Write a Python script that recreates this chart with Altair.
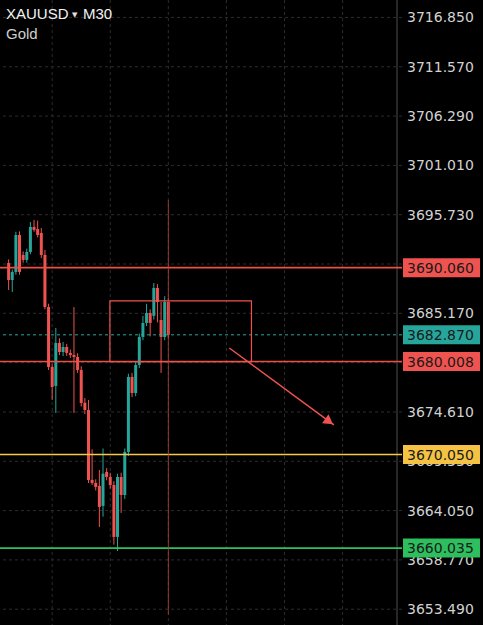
import altair as alt
import pandas as pd

# ---------------- data ----------------
bar_index = list(range(1, 46))
opens = [3690.56, 3688.74, 3689.60, 3693.56, 3691.42, 3690.89, 3691.74, 3694.42, 3694.20, 3693.78,
         3691.42, 3685.85, 3679.43, 3677.40, 3682.00, 3681.03, 3681.57, 3680.93, 3680.71, 3680.50,
         3679.11, 3675.60, 3674.82, 3667.33, 3667.01, 3666.69, 3664.55, 3668.19, 3667.65, 3666.79,
         3661.23, 3667.65, 3665.72, 3670.33, 3678.36, 3676.64, 3679.64, 3682.64, 3684.14, 3685.21,
         3684.90, 3687.89, 3684.46, 3682.64, 3686.39]
highs = [3690.95, 3689.85, 3693.90, 3693.95, 3691.80, 3692.10, 3694.95, 3695.17, 3695.10, 3694.31,
         3691.96, 3686.20, 3679.80, 3683.60, 3682.50, 3682.10, 3681.90, 3681.30, 3685.85, 3680.90,
         3679.50, 3676.10, 3675.90, 3670.60, 3667.40, 3668.40, 3670.70, 3668.60, 3668.10, 3667.20,
         3668.00, 3668.10, 3670.70, 3678.70, 3678.80, 3680.00, 3683.00, 3684.90, 3686.20, 3685.60,
         3688.42, 3688.30, 3686.39, 3687.00, 3686.80]
lows = [3687.67, 3687.46, 3689.30, 3689.30, 3690.60, 3690.60, 3691.50, 3693.90, 3693.30, 3691.10,
        3685.60, 3679.10, 3675.90, 3674.50, 3680.70, 3680.60, 3680.60, 3680.40, 3674.50, 3678.80,
        3675.20, 3674.40, 3667.00, 3666.80, 3666.20, 3662.30, 3663.40, 3667.30, 3666.40, 3660.40,
        3659.73, 3663.80, 3665.30, 3669.90, 3676.20, 3676.30, 3679.30, 3682.30, 3683.80, 3682.70,
        3684.50, 3684.20, 3678.79, 3682.30, 3682.50]
closes = [3688.74, 3689.60, 3693.56, 3689.60, 3690.89, 3691.74, 3694.42, 3694.10, 3693.56, 3691.42,
          3685.85, 3679.43, 3677.29, 3682.00, 3681.03, 3681.57, 3680.93, 3680.71, 3680.50, 3679.11,
          3675.57, 3674.82, 3667.33, 3667.01, 3666.58, 3664.44, 3668.00, 3667.65, 3666.79, 3661.23,
          3667.65, 3665.72, 3670.33, 3678.36, 3676.64, 3679.64, 3682.64, 3684.14, 3685.21, 3684.14,
          3687.89, 3686.39, 3682.64, 3686.39, 3682.87]

axis_ticks = [3716.850, 3711.570, 3706.290, 3701.010, 3695.730, 3690.450, 3685.170,
              3679.890, 3674.610, 3669.330, 3664.050, 3658.770, 3653.490]
grid_bars = [13, 29, 45, 61, 77, 93]

level_prices = [3690.060, 3682.870, 3680.008, 3670.050, 3660.035]
level_labels = ["3690.060", "3682.870", "3680.008", "3670.050", "3660.035"]
level_line_colors = ["#EA5048", "#2AA79B", "#EA5048", "#F4C84A", "#2FC060"]
level_box_colors = ["#EF5350", "#26A69A", "#EF5350", "#F5C344", "#2DBE5E"]
level_dashed = [False, True, False, False, False]

zone_bars = [28.9, 67.9]
zone_prices = [3686.50, 3680.008]
arrow_bars = [61.8, 90.6]
arrow_prices = [3681.46, 3673.22]
arrow_head = [89.3, 3673.59]
cross_bar = 45
cross_prices = [3697.30, 3652.90]

# ---------------- tables ----------------
candles = pd.DataFrame({"i": bar_index, "open": opens, "high": highs, "low": lows, "close": closes})
candles["dir"] = ["up" if c >= o else "down" for o, c in zip(opens, closes)]
levels = pd.DataFrame({"price": level_prices, "label": level_labels, "lc": level_line_colors,
                       "bc": level_box_colors, "dashed": level_dashed})
ticks_df = pd.DataFrame({"price": axis_ticks, "label": [f"{v:.3f}" for v in axis_ticks]})
grid_df = pd.DataFrame({"i": grid_bars})

X_DOMAIN = [0, 108]
Y_DOMAIN = [3651.80, 3718.72]
xs = alt.Scale(domain=X_DOMAIN, nice=False, zero=False)
ys = alt.Scale(domain=Y_DOMAIN, nice=False, zero=False)
FONT = "DejaVu Sans"
RED = "#EF5350"
GRID = "#2C2C2C"

X = lambda f: alt.X(f, scale=xs, axis=None)
Y = lambda f: alt.Y(f, scale=ys, axis=None)

hgrid = alt.Chart(ticks_df).mark_rule(color=GRID, strokeWidth=1, strokeDash=[3, 3]).encode(
    y=Y("price:Q"))
vgrid = alt.Chart(grid_df).mark_rule(color=GRID, strokeWidth=1, strokeDash=[3, 3]).encode(
    x=X("i:Q"))
domain_line = alt.Chart(pd.DataFrame({"x": [X_DOMAIN[1]]})).mark_rule(
    color="#4F4F4F", strokeWidth=1).encode(x=X("x:Q"))
tick_text = alt.Chart(ticks_df).mark_text(align="left", baseline="middle", font=FONT,
                                          fontSize=14, color="#D2D2D2", dy=1).encode(
    x=alt.value(407), y=Y("price:Q"), text="label:N")

col = alt.Color("dir:N", scale=alt.Scale(domain=["up", "down"], range=["#26A69A", RED]), legend=None)

wicks = alt.Chart(candles).mark_rule(strokeWidth=1).encode(
    x=X("i:Q"), y=Y("low:Q"), y2="high:Q", color=col)

bodies = alt.Chart(candles).mark_bar(size=3).encode(
    x=X("i:Q"), y=Y("open:Q"), y2="close:Q", color=col)

solid_lines = alt.Chart(levels).transform_filter("!datum.dashed").mark_rule(strokeWidth=1.6).encode(
    y=Y("price:Q"), color=alt.Color("lc:N", scale=None))
dashed_lines = alt.Chart(levels).transform_filter("datum.dashed").mark_rule(
    strokeWidth=1, strokeDash=[3, 3]).encode(
    y=Y("price:Q"), color=alt.Color("lc:N", scale=None))

zone = alt.Chart(pd.DataFrame({"x1": [zone_bars[0]], "x2": [zone_bars[1]],
                               "y1": [zone_prices[0]], "y2": [zone_prices[1]]})).mark_rect(
    fillOpacity=0, stroke=RED, strokeWidth=1.2).encode(
    x=X("x1:Q"), x2="x2:Q", y=Y("y1:Q"), y2="y2:Q")

arrow = alt.Chart(pd.DataFrame({"x1": [arrow_bars[0]], "x2": [arrow_bars[1]],
                                "y1": [arrow_prices[0]], "y2": [arrow_prices[1]]})).mark_rule(
    color=RED, strokeWidth=1.5).encode(
    x=X("x1:Q"), x2="x2:Q", y=Y("y1:Q"), y2="y2:Q")

head = alt.Chart(pd.DataFrame({"x": [arrow_head[0]], "y": [arrow_head[1]]})).mark_point(
    shape="triangle-right", filled=True, size=120, angle=35.7, color=RED, opacity=1).encode(
    x=X("x:Q"), y=Y("y:Q"))

cross = alt.Chart(pd.DataFrame({"x": [cross_bar], "y1": [cross_prices[0]], "y2": [cross_prices[1]]})).mark_rule(
    color="#B8403C", strokeWidth=1, opacity=0.8).encode(
    x=X("x:Q"), y=Y("y1:Q"), y2="y2:Q")

boxes = alt.Chart(levels).transform_calculate(
    top="datum.price + 1.02", bot="datum.price - 1.02").mark_rect().encode(
    x=alt.value(403), x2=alt.value(480),
    y=Y("top:Q"), y2="bot:Q",
    color=alt.Color("bc:N", scale=None))

box_text = alt.Chart(levels).mark_text(align="left", baseline="middle", font=FONT,
                                       fontSize=14, color="#1A1A1A", dy=1).encode(
    x=alt.value(407), y=Y("price:Q"), text="label:N")

one = pd.DataFrame({"a": [0]})
t1 = alt.Chart(one).mark_text(text="XAUUSD", align="left", baseline="alphabetic",
                              font="Liberation Sans", fontSize=15, color="#F2F2F2").encode(
    x=alt.value(6), y=alt.value(19))
t2 = alt.Chart(one).mark_text(text="▼", align="left", baseline="alphabetic",
                              font="DejaVu Sans", fontSize=7, color="#E0E0E0").encode(
    x=alt.value(72), y=alt.value(17))
t3 = alt.Chart(one).mark_text(text="M30", align="left", baseline="alphabetic",
                              font="Liberation Sans", fontSize=15, color="#F2F2F2").encode(
    x=alt.value(83), y=alt.value(19))
t4 = alt.Chart(one).mark_text(text="Gold", align="left", baseline="alphabetic",
                              font="Liberation Sans", fontSize=15, color="#CFCFCF").encode(
    x=alt.value(6), y=alt.value(39))

chart = alt.layer(hgrid, vgrid, domain_line, tick_text, wicks, bodies, solid_lines, dashed_lines,
                  zone, arrow, head, cross, boxes, box_text, t1, t2, t3, t4).properties(
    width=402, height=625,
    autosize=alt.AutoSizeParams(type="none"),
    padding={"left": 0, "right": 81, "top": 0, "bottom": 0},
).configure(background="#000000").configure_view(stroke=None)

chart.save("out.html", embed_options={"renderer": "svg", "actions": False})
